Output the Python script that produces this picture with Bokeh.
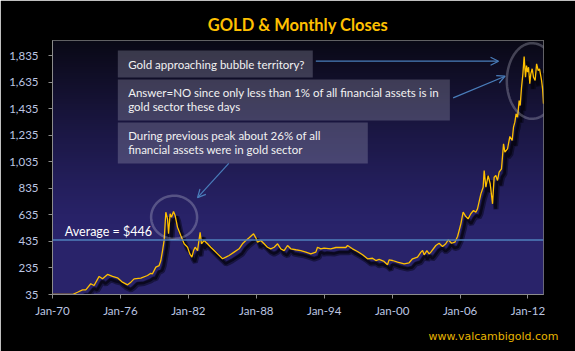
import numpy as np
from bokeh.plotting import figure
from bokeh.models import (ColumnDataSource, FixedTicker, NumeralTickFormatter, Span,
                          BoxAnnotation, Label, Arrow, OpenHead, PolyAnnotation, Range1d, Title)
from bokeh.transform import dodge
from bokeh.embed import file_html
from bokeh.resources import INLINE

# ---------------- data ----------------
dates = [1970.00, 1971.77, 1972.21, 1972.65, 1972.94, 1973.38, 1973.67, 1974.12, 1974.42, 1974.86,
         1975.30, 1975.74, 1976.18, 1976.63, 1976.92, 1977.21, 1977.80, 1978.39, 1978.68, 1978.83,
         1979.13, 1979.42, 1979.57, 1979.72, 1979.86, 1980.01, 1980.16, 1980.25, 1980.39, 1980.51,
         1980.69, 1980.83, 1981.04, 1981.33, 1981.63, 1981.93, 1982.13, 1982.31, 1982.46, 1982.60,
         1982.81, 1983.04, 1983.16, 1983.39, 1983.69, 1983.98, 1984.28, 1984.58, 1985.02, 1985.31,
         1985.60, 1986.04, 1986.48, 1986.78, 1987.08, 1987.37, 1987.76, 1987.96, 1988.11, 1988.40,
         1988.69, 1988.99, 1989.28, 1989.58, 1989.88, 1990.17, 1990.46, 1990.76, 1991.05, 1991.49,
         1991.93, 1992.38, 1992.82, 1993.26, 1993.41, 1993.70, 1993.99, 1994.58, 1995.03, 1995.91,
         1996.06, 1996.50, 1996.94, 1997.39, 1997.83, 1998.27, 1998.56, 1998.85, 1999.29, 1999.59,
         1999.73, 2000.04, 2000.48, 2001.06, 2001.50, 2001.80, 2002.24, 2002.54, 2002.69, 2002.83,
         2003.07, 2003.27, 2003.42, 2003.86, 2004.15, 2004.45, 2004.74, 2004.95, 2005.25, 2005.54,
         2005.78, 2006.07, 2006.27, 2006.51, 2006.71, 2006.95, 2007.19, 2007.39, 2007.54, 2007.84,
         2008.04, 2008.13, 2008.28, 2008.48, 2008.66, 2008.87, 2009.01, 2009.16, 2009.31, 2009.45,
         2009.66, 2009.84, 2009.96, 2010.19, 2010.40, 2010.60, 2010.72, 2010.84, 2010.95, 2011.08,
         2011.22, 2011.31, 2011.43, 2011.55, 2011.66, 2011.78, 2011.87, 2011.96, 2012.05, 2012.16,
         2012.25, 2012.37, 2012.49, 2012.63, 2012.76, 2012.90, 2013.02, 2013.20, 2013.29, 2013.37]
closes = [35, 35, 52, 70, 70, 116, 103, 171, 153, 186,
          171, 161, 128, 108, 128, 153, 158, 178, 195, 191,
          241, 253, 291, 366, 442, 655, 605, 492, 643, 617,
          660, 630, 542, 479, 417, 391, 341, 316, 366, 391,
          366, 504, 417, 442, 417, 391, 366, 341, 304, 316,
          329, 354, 379, 417, 442, 462, 492, 462, 429, 442,
          417, 391, 379, 391, 417, 379, 366, 404, 379, 372,
          366, 354, 341, 354, 391, 379, 384, 379, 389, 389,
          404, 379, 359, 334, 304, 308, 291, 299, 284, 259,
          296, 291, 278, 266, 274, 304, 316, 354, 366, 334,
          366, 341, 354, 404, 421, 396, 417, 447, 421, 429,
          472, 567, 655, 622, 605, 643, 668, 655, 680, 793,
          843, 969, 843, 931, 869, 718, 918, 931, 894, 956,
          982, 1170, 1107, 1132, 1225, 1195, 1295, 1333, 1396, 1370,
          1496, 1458, 1596, 1697, 1827, 1671, 1759, 1709, 1747, 1622,
          1697, 1735, 1671, 1647, 1772, 1722, 1735, 1647, 1584, 1471]
average_close = 446
y_ticks = [35, 235, 435, 635, 835, 1035, 1235, 1435, 1635, 1835]
x_ticks = [1970, 1976, 1982, 1988, 1994, 2000, 2006, 2012]
x_labels = ["Jan-70", "Jan-76", "Jan-82", "Jan-88", "Jan-94", "Jan-00", "Jan-06", "Jan-12"]
title_text = "GOLD & Monthly Closes"
notes = ["Gold approaching bubble territory?",
         "Answer=NO since only less than 1% of all  financial assets is in",
         "gold sector these days",
         "During previous  peak about  26% of all",
         "financial assets were in gold sector"]
footer_text = "www.valcambigold.com"

# ---------------- figure ----------------
X0, X1 = 1970, 2013.37
Y0, Y1 = 35, 1948
FONT = "Lato"
GOLD = "#FFC000"
ARROW = "#4a7ebb"

p = figure(width=575, height=351, output_backend="svg", toolbar_location=None,
           x_range=Range1d(X0, X1), y_range=Range1d(Y0, Y1),
           min_border_left=52, min_border_right=32, min_border_top=40, min_border_bottom=57,
           background_fill_color="#28226a", border_fill_color="#000000",
           outline_line_color="#7f7f7f", outline_line_width=1)

# title (above) and footer (below)
p.title.text = title_text
p.title.align = "center"
p.title.offset = -10
p.title.standoff = 12
p.title.text_color = GOLD
p.title.text_font = FONT
p.title.text_font_size = "16.5px"
p.title.text_font_style = "bold"
p.add_layout(Title(text=footer_text, align="right", offset=-15, standoff=16,
                   text_color="#e6b400", text_font="DejaVu Sans", text_font_size="11px",
                   text_font_style="normal"), "below")

# vertical gradient background of the plot area
N = 128
t = np.linspace(0, 1, N)
s = np.clip((t - 0.28) / 0.72, 0, 1) ** 1.15
bottom_c = np.array([41, 35, 106], dtype=float)
top_c = np.array([10, 9, 22], dtype=float)
cols = bottom_c[None, :] * (1 - s[:, None]) + top_c[None, :] * s[:, None]
img = np.empty((N, 1), dtype=np.uint32)
view = img.view(dtype=np.uint8).reshape((N, 1, 4))
view[:, 0, 0] = cols[:, 0]
view[:, 0, 1] = cols[:, 1]
view[:, 0, 2] = cols[:, 2]
view[:, 0, 3] = 255
p.image_rgba(image=[img], x=X0, y=Y0, dw=X1 - X0, dh=Y1 - Y0)

src = ColumnDataSource(dict(date=dates, close=closes))
# soft shadow under the gold line
p.line(x=dodge("date", 0.3), y=dodge("close", -40), source=src,
       line_color="#03020a", line_alpha=0.45, line_width=5)
p.line(x=dodge("date", 0.27), y=dodge("close", -36), source=src,
       line_color="#03020a", line_alpha=0.65, line_width=2.5)
p.line("date", "close", source=src, line_color=GOLD, line_width=1.3)

# average line
p.add_layout(Span(location=average_close, dimension="width", line_color="#4f81bd", line_width=1.5))
p.add_layout(Label(x=1971.09, y=509, text="Average = $" + str(average_close), text_color="#ffffff",
                   text_font=FONT, text_font_size="12.5px", text_baseline="middle"))

# note boxes
box_style = dict(fill_color="#b4b4c8", fill_alpha=0.28, line_alpha=0)
p.add_layout(BoxAnnotation(left=1975.77, right=1992.99, bottom=1669, top=1872, **box_style))
p.add_layout(BoxAnnotation(left=1975.77, right=2005.10, bottom=1345, top=1654, **box_style))
p.add_layout(BoxAnnotation(left=1975.77, right=1997.85, bottom=1022, top=1330, **box_style))
note_y = [1771, 1558, 1451, 1232, 1127]
for txt, ny in zip(notes, note_y):
    p.add_layout(Label(x=1976.68, y=ny, text=txt, text_color="#f2f2f2", text_font=FONT,
                       text_font_size="11.5px", text_baseline="middle"))

# arrows
for xs_, ys_, xe_, ye_ in [(1993.26, 1792, 2009.40, 1792),
                           (2005.39, 1516, 2009.98, 1679),
                           (1985.57, 1022, 1982.81, 765)]:
    p.add_layout(Arrow(end=OpenHead(size=8, line_color=ARROW, line_width=1.2),
                       x_start=xs_, y_start=ys_, x_end=xe_, y_end=ye_,
                       line_color=ARROW, line_width=1.2))

# ellipses
th = np.linspace(0, 2 * np.pi, 100)
for cx, cy, rx, ry in [(1980.74, 617, 2.03, 162), (2012.37, 1643, 2.24, 285)]:
    p.add_layout(PolyAnnotation(xs=list(cx + rx * np.cos(th)), ys=list(cy + ry * np.sin(th)),
                                fill_alpha=0, line_color="#c9c9dc", line_width=2.5))

# axes
p.grid.visible = False
p.xaxis.ticker = FixedTicker(ticks=x_ticks)
p.xaxis.major_label_overrides = {t_: l_ for t_, l_ in zip(x_ticks, x_labels)}
p.yaxis.ticker = FixedTicker(ticks=y_ticks)
p.yaxis.formatter = NumeralTickFormatter(format="0,0")
for ax in (p.xaxis[0], p.yaxis[0]):
    ax.axis_line_color = "#8c8c8c"
    ax.major_tick_line_color = "#8c8c8c"
    ax.major_tick_out = 4
    ax.major_tick_in = 0
    ax.minor_tick_line_color = None
    ax.major_label_text_color = "#bcc6e2"
    ax.major_label_text_font = FONT
    ax.major_label_text_font_size = "11.5px"
p.yaxis.major_label_standoff = 10
p.xaxis.major_label_standoff = 5

open("out.html", "w").write(file_html(p, INLINE))
